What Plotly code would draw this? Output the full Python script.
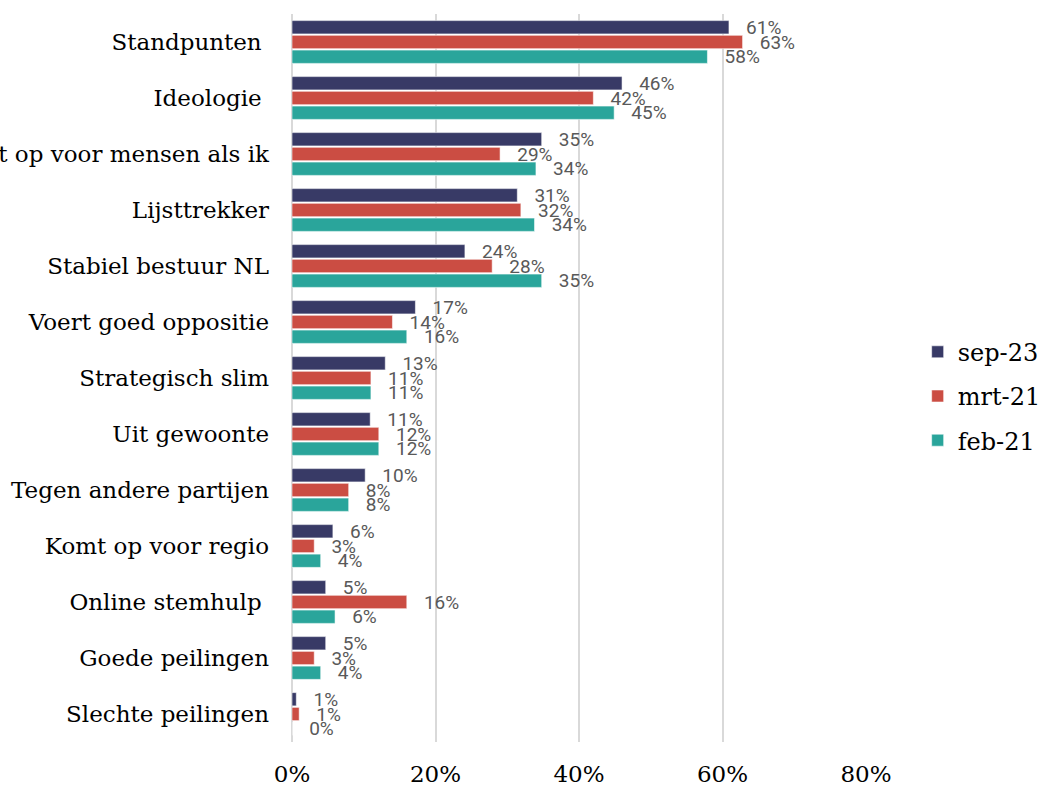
import plotly.graph_objects as go

categories = ["Standpunten ", "Ideologie ", "Komt op voor mensen als ik", "Lijsttrekker",
              "Stabiel bestuur NL", "Voert goed oppositie", "Strategisch slim", "Uit gewoonte",
              "Tegen andere partijen", "Komt op voor regio", "Online stemhulp ",
              "Goede peilingen", "Slechte peilingen"]
sep23 = [0.609, 0.460, 0.348, 0.314, 0.241, 0.172, 0.130, 0.109, 0.102, 0.057, 0.047, 0.047, 0.006]
mrt21 = [0.628, 0.420, 0.290, 0.319, 0.279, 0.140, 0.110, 0.121, 0.079, 0.031, 0.160, 0.031, 0.010]
feb21 = [0.579, 0.449, 0.340, 0.338, 0.348, 0.160, 0.110, 0.121, 0.079, 0.040, 0.060, 0.040, 0.000]

series = [("sep-23", sep23, "#383a66"), ("mrt-21", mrt21, "#cb4d43"), ("feb-21", feb21, "#2aa59b")]
x_ticks = [0, 0.2, 0.4, 0.6, 0.8]

SERIF = "DejaVu Serif"
fig = go.Figure()
for i, (name, vals, col) in enumerate(series):
    fig.add_trace(go.Bar(
        y=categories, x=vals, name=name, orientation="h",
        marker=dict(color=col, line=dict(color="rgba(255,255,255,0.55)", width=1)),
        texttemplate="\u00a0\u00a0\u00a0%{x:.0%}", textposition="outside",
        constraintext="none", cliponaxis=False,
        textfont=dict(family="Roboto", size=19, color="#595959"),
        legendgroup=name, hoverinfo="skip",
    ))

fig.update_layout(
    width=1040, height=786,
    margin=dict(l=292, r=174, t=14, b=44, autoexpand=False),
    barmode="group", bargap=0.21, bargroupgap=0.1,
    plot_bgcolor="white", paper_bgcolor="white",
    showlegend=True,
    legend=dict(x=1.09, xanchor="left", y=0.475, yanchor="middle",
                font=dict(family=SERIF, size=24, color="#000000"),
                tracegroupgap=10, traceorder="grouped"),
    xaxis=dict(range=[0, 0.8], tickvals=x_ticks, tickformat=".0%",
               showgrid=True, gridcolor="#d9d9d9", gridwidth=2,
               zeroline=True, zerolinecolor="#d9d9d9", zerolinewidth=2,
               showline=False, ticks="", ticklabelstandoff=16, automargin=False,
               tickfont=dict(family=SERIF, size=23, color="#000000")),
    yaxis=dict(autorange="reversed", showgrid=False, showline=False, ticks="",
               ticklabelstandoff=22, automargin=False,
               tickfont=dict(family=SERIF, size=23, color="#000000")),
)

fig.write_html("out.html", config={"displayModeBar": False},
               post_script="document.body.style.margin='0';document.body.style.overflow='hidden';")
